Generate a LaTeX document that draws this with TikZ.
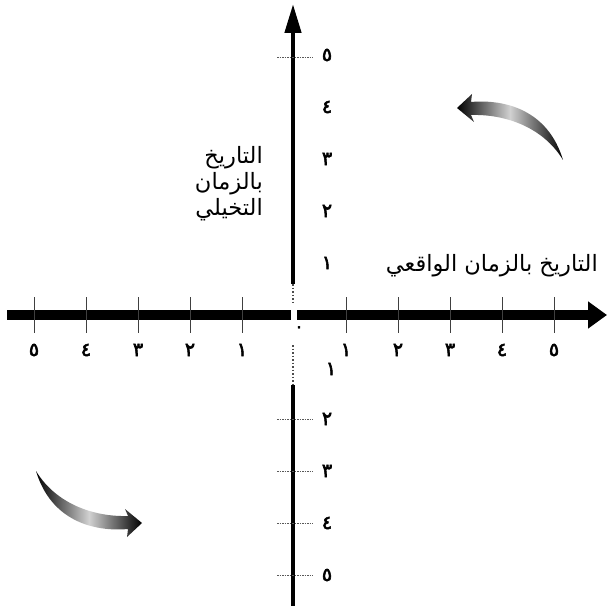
\documentclass[tikz,border=0pt]{standalone}
\usepackage{fontspec}
\usetikzlibrary{arrows.meta}
\TeXXeTstate=1
\newfontfamily\arabicfont[Script=Arabic]{DejaVu Sans}
\newfontfamily\digitfont[Script=Arabic,FakeBold=3]{DejaVu Sans}
\begin{document}
\begin{tikzpicture}[x=1pt,y=-1pt,
  haxis/.style={line width=10pt, black},
  vaxis/.style={line width=4.5pt, black},
  vaxisdots/.style={line width=2pt, black!70, dash pattern=on 1.5pt off 2pt},
  htick/.style={line width=0.7pt, black!75},
  vtick/.style={line width=0.7pt, black!65, dash pattern=on 1.5pt off 1pt},
  numlabel/.style={font=\digitfont\fontsize{19}{19}\selectfont, inner sep=0pt},
  captxt/.style={font=\arabicfont\fontsize{22.5}{26}\selectfont, inner sep=0pt, align=right},
  brush/.style={left color=black, right color=black, middle color=black!18}]
\useasboundingbox[fill=white] (0,0) rectangle (607,609);
% axes
\coordinate (L) at (7,315);
\coordinate (gapL) at (291,315);
\coordinate (gapR) at (297,315);
\coordinate (R) at (607,315);
\coordinate (T) at (293,4);
\coordinate (up1) at (293,284);
\coordinate (up0) at (293,304);
\coordinate (lo0) at (293,345);
\coordinate (lo1) at (293,385);
\coordinate (B) at (293,606);
\draw[haxis] (L) -- (gapL);
\draw[haxis, -{Triangle[length=19pt,width=26pt]}] (gapR) -- (R);
\draw[vaxis, -{Triangle[length=29pt,width=16pt]}] (up1) -- (T);
\draw[vaxisdots] (up1) -- (up0);
\draw[vaxisdots] (lo0) -- (lo1);
\draw[vaxis] (lo1) -- (B);
% horizontal ticks and labels
\foreach \k/\d in {1/١,2/٢,3/٣,4/٤,5/٥}{
  \coordinate (tr\k) at ({294+52*\k},297);
  \coordinate (trb\k) at ({294+52*\k},333);
  \coordinate (tl\k) at ({294-52*\k},297);
  \coordinate (tlb\k) at ({294-52*\k},333);
  \draw[htick] (tr\k) -- (trb\k);
  \draw[htick] (tl\k) -- (tlb\k);
  \node[numlabel] (xr\k) at ({294+52*\k},350) {\d};
  \node[numlabel] (xl\k) at ({294-52*\k},350) {\d};
}
% vertical ticks and labels
\foreach \k/\d in {1/١,2/٢,3/٣,4/٤,5/٥}{
  \node[numlabel] (yu\k) at (327,{315-52*\k}) {\d};
}
\foreach \k/\d in {2/٢,3/٣,4/٤,5/٥}{
  \node[numlabel] (yd\k) at (327,{315+52*\k}) {\d};
  \coordinate (vl\k) at (277,{315+52*\k});
  \coordinate (vr\k) at (313,{315+52*\k});
  \draw[vtick] (vl\k) -- (vr\k);
}
\node[numlabel] (yd1) at (331,369) {١};
\coordinate (vl5u) at (277,57);
\coordinate (vr5u) at (313,57);
\draw[vtick] (vl5u) -- (vr5u);
\node[numlabel, font=\digitfont\fontsize{15}{15}\selectfont] (zero) at (299,329) {٠};
% captions
\node[captxt, anchor=east] (real) at (598,266) {\beginR التاريخ بالزمان الواقعي\endR};
\node[captxt, anchor=east] (imag) at (263,184) {\beginR التاريخ\endR\\ \beginR بالزمان\endR\\ \beginR التخيلي\endR};
% curved brush arrows
\shade[brush] (457,108) -- (472,94) -- (471,102) .. controls (505,99) and (548,110) .. (563,160)
  .. controls (543,127) and (505,114) .. (471,115) -- (474,122) -- cycle;
\begin{scope}[shift={(599,631)}, rotate=180]
\shade[brush] (457,108) -- (472,94) -- (471,102) .. controls (505,99) and (548,110) .. (563,160)
  .. controls (543,127) and (505,114) .. (471,115) -- (474,122) -- cycle;
\end{scope}
\end{tikzpicture}
\end{document}
